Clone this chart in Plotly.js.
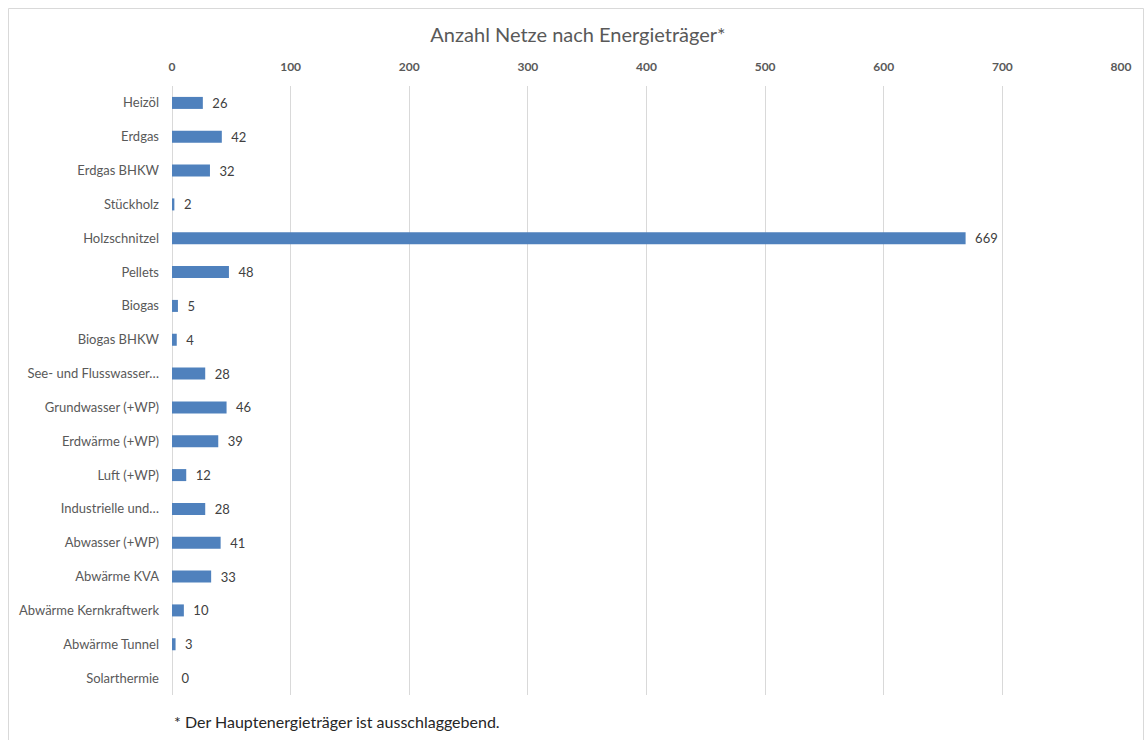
<!DOCTYPE html>
<html><head><meta charset="utf-8">
<script src="https://cdn.plot.ly/plotly-3.0.1.min.js"></script>
<style>html,body{margin:0;padding:0;background:#fff}#c{width:1144px;height:740px}</style>
</head><body><div id="c"></div>
<script>
const categories = ["Heizöl","Erdgas","Erdgas BHKW","Stückholz","Holzschnitzel","Pellets","Biogas","Biogas BHKW","See- und Flusswasser…","Grundwasser (+WP)","Erdwärme (+WP)","Luft (+WP)","Industrielle und…","Abwasser (+WP)","Abwärme KVA","Abwärme Kernkraftwerk","Abwärme Tunnel","Solarthermie"];
const values = [26,42,32,2,669,48,5,4,28,46,39,12,28,41,33,10,3,0];
const xTicks = [0,100,200,300,400,500,600,700,800];
const titleText = "Anzahl Netze nach Energieträger*";
const footnote = "* Der Hauptenergieträger ist ausschlaggebend.";

const F = "Lato, 'Open Sans', sans-serif";
const W = 1144, H = 740, L = 172, R = 1121, T = 86, B = 695;
const pw = R - L, ph = B - T;

Plotly.newPlot('c', [{
  type: 'bar', orientation: 'h',
  y: categories, x: values,
  marker: {color: '#4f81bd'},
  text: values.map(v => '\u2002' + v), textposition: 'outside', cliponaxis: false,
  constraintext: 'none',
  textfont: {family: F, size: 13, color: '#404040'},
  hoverinfo: 'none'
}], {
  width: W, height: H,
  margin: {l: L, r: W - R, t: T, b: H - B, pad: 0},
  paper_bgcolor: '#fff', plot_bgcolor: '#fff',
  bargap: 0.645,
  showlegend: false,
  title: {text: titleText, x: 578 / W, xref: 'container', xanchor: 'center', y: 1 - 35/H, yref: 'container', yanchor: 'middle',
          font: {family: F, size: 20, color: '#595959'}},
  xaxis: {side: 'top', range: [0, 800], tickvals: xTicks, ticktext: xTicks.map(String),
          showgrid: true, gridcolor: '#d9d9d9', gridwidth: 1, zeroline: true, zerolinecolor: '#d9d9d9',
          showline: false, ticks: '', ticklabelstandoff: 12,
          tickfont: {family: F, size: 12, color: '#595959', weight: 'bold'}, fixedrange: true},
  yaxis: {autorange: 'reversed', showgrid: false, zeroline: false, showline: false, ticks: '',
          ticklabelstandoff: 12, tickfont: {family: F, size: 13, color: '#595959'}, fixedrange: true},
  shapes: [{type: 'rect', xref: 'paper', yref: 'paper',
            x0: (8.5 - L)/pw, x1: (1143.5 - L)/pw, y0: (B - 760)/ph, y1: (B - 8.5)/ph,
            line: {color: '#d9d9d9', width: 1}, fillcolor: 'rgba(0,0,0,0)', layer: 'below'}],
  annotations: [{text: footnote, xref: 'paper', yref: 'paper', x: 0, y: (B - 721)/ph,
                 xanchor: 'left', yanchor: 'middle', showarrow: false,
                 font: {family: F, size: 16, color: '#262626'}}]
}, {displayModeBar: false, staticPlot: true});
</script></body></html>
